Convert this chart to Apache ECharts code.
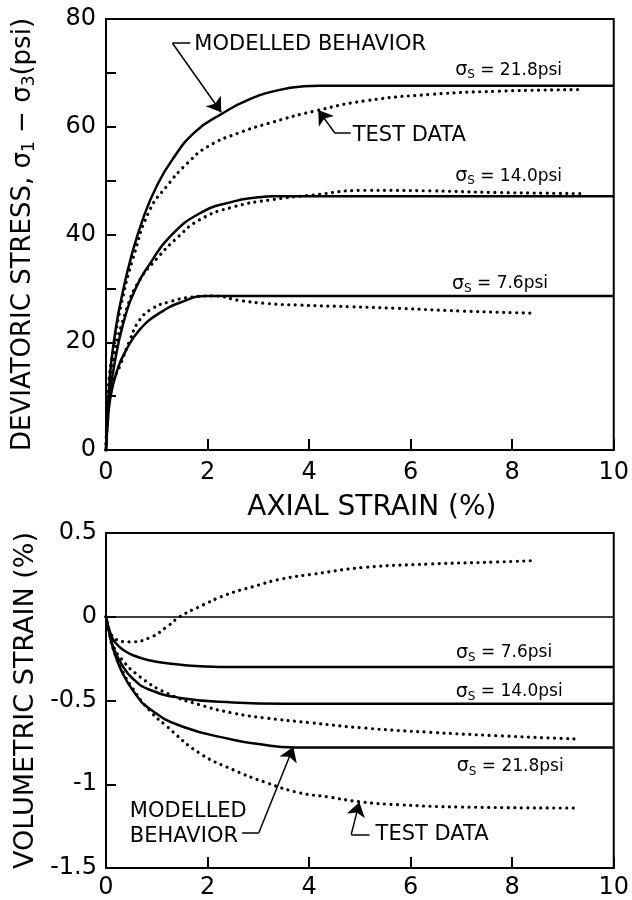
<!DOCTYPE html>
<html>
<head>
<meta charset="utf-8">
<script src="https://cdn.jsdelivr.net/npm/echarts@6/dist/echarts.min.js"></script>
<style>
  html, body { margin: 0; padding: 0; background: #fff; }
  #main { width: 632px; height: 900px; }
</style>
</head>
<body>
<div id="main"></div>
<script>
// axial strain (%) -> deviatoric stress (psi)
var modelDev218 = [[0,0],[0.05,10],[0.1,16],[0.2,23],[0.3,28],[0.5,36],[0.75,43.5],[1,49],[1.3,53.8],[1.75,59],[2.3,62.5],[2.8,65],[3.4,66.8],[3.9,67.5],[4.2,67.6],[10,67.6]];
var testDev218  = [[0,0],[0.05,12],[0.15,19],[0.3,27],[0.53,35.5],[0.86,44.5],[1.2,49],[1.6,53.2],[2.0,56.3],[2.6,58.8],[3.3,60.9],[4.1,62.9],[5.1,64.8],[6.4,66],[7.7,66.6],[9.3,66.9]];
var modelDev140 = [[0,0],[0.04,8],[0.14,14.5],[0.34,23.5],[0.6,30.3],[0.86,34.5],[1.25,39.5],[1.84,43.9],[2.5,46.1],[3.0,46.9],[3.3,47.1],[10,47.1]];
var testDev140  = [[0,0],[0.05,10],[0.15,17],[0.4,26],[0.66,31.5],[1.0,35.5],[1.38,39.2],[1.84,42.7],[2.5,45.1],[3.3,46.5],[4.05,47.3],[5.1,48.2],[6.4,48.1],[7.7,47.8],[9.35,47.6]];
var modelDev76  = [[0,0],[0.03,4.5],[0.08,9.3],[0.2,14.2],[0.4,18.6],[0.66,22.3],[1.05,25.4],[1.5,27.5],[1.97,28.6],[10,28.6]];
var testDev76   = [[0,0],[0.05,8],[0.1,12],[0.27,15.5],[0.47,20.4],[0.66,24.1],[0.92,26.3],[1.25,27.5],[1.7,28.4],[2.15,28.6],[2.6,27.8],[3.15,27.2],[3.8,26.9],[4.8,26.6],[5.75,26.3],[7.0,25.8],[8.4,25.4]];

// axial strain (%) -> volumetric strain (%)
var modelVol76  = [[0,0],[0.1,-0.11],[0.2,-0.16],[0.35,-0.2],[0.53,-0.23],[0.85,-0.26],[1.2,-0.277],[1.85,-0.295],[2.6,-0.3],[10,-0.3]];
var testVol76   = [[0,0],[0.14,-0.12],[0.47,-0.15],[0.86,-0.125],[1.2,-0.06],[1.45,0],[1.84,0.06],[2.36,0.13],[2.9,0.18],[3.45,0.225],[4.1,0.255],[5.1,0.295],[6.4,0.315],[7.7,0.327],[8.4,0.335]];
var modelVol140 = [[0,0],[0.07,-0.1],[0.14,-0.18],[0.3,-0.28],[0.53,-0.37],[0.86,-0.436],[1.5,-0.486],[2.5,-0.512],[3.5,-0.52],[10,-0.52]];
var testVol140  = [[0,0],[0.07,-0.1],[0.14,-0.17],[0.27,-0.24],[0.66,-0.356],[1.2,-0.456],[1.84,-0.525],[2.5,-0.575],[3.15,-0.605],[4.0,-0.632],[5.1,-0.665],[6.4,-0.69],[7.7,-0.71],[9.3,-0.73]];
var modelVol218 = [[0,0],[0.07,-0.1],[0.14,-0.19],[0.3,-0.32],[0.53,-0.44],[0.86,-0.55],[1.5,-0.655],[2.5,-0.734],[3.0,-0.76],[3.7,-0.78],[10,-0.78]];
var testVol218  = [[0,0],[0.07,-0.1],[0.14,-0.19],[0.3,-0.31],[0.53,-0.43],[0.86,-0.56],[1.2,-0.655],[1.84,-0.814],[2.5,-0.913],[3.15,-0.99],[3.8,-1.05],[4.4,-1.077],[5.0,-1.105],[5.75,-1.122],[7.0,-1.136],[9.25,-1.142]];

var strainTicks = [0, 2, 4, 6, 8, 10];

// confining pressure labels: [x, y, value]
var devSigmaLabels = [[7.93, 70.5, '21.8'], [7.93, 50.8, '14.0'], [7.76, 30.8, '7.6']];
var volSigmaLabels = [[7.84, -0.215, '7.6'], [7.94, -0.448, '14.0'], [7.96, -0.894, '21.8']];

var FONT = 'DejaVu Sans';

var solid = { color: '#000', width: 2.5 };
var dotted = { color: '#000', width: 3.2, type: [0.01, 6.5], cap: 'round' };

function curve(data, style, grid, extra) {
  var s = {
    type: 'line', data: data, xAxisIndex: grid, yAxisIndex: grid,
    showSymbol: false, smooth: 0.5,
    lineStyle: style, silent: true, animation: false
  };
  return Object.assign(s, extra || {});
}

function sigmaPoints(list) {
  return list.map(function (d) {
    return {
      coord: [d[0], d[1]],
      label: { formatter: '{s|σ}{b|S}{t| = ' + d[2] + 'psi}' }
    };
  });
}

var sigmaRich = {
  s: { fontFamily: FONT, fontSize: 19, lineHeight: 22, color: '#000' },
  b: { fontFamily: FONT, fontSize: 12, lineHeight: 12, verticalAlign: 'bottom', color: '#000' },
  t: { fontFamily: FONT, fontSize: 17, lineHeight: 22, color: '#000' }
};

function textMarks(items) {
  return {
    symbol: 'circle', symbolSize: 1, silent: true,
    itemStyle: { color: 'rgba(0,0,0,0)' },
    label: {
      show: true, position: 'inside', align: 'center', color: '#000',
      fontFamily: FONT, fontSize: 21, rich: sigmaRich
    },
    data: items
  };
}

function leaders(segs) {
  return {
    silent: true, symbol: ['none', 'none'], symbolSize: 14,
    label: { show: false },
    lineStyle: { color: '#000', width: 1.5, type: 'solid' },
    data: segs
  };
}

function seg(a, b, arrow) {
  return [{ coord: a, symbol: 'none' }, { coord: b, symbol: arrow ? 'arrow' : 'none' }];
}

var axisTxt = { fontFamily: FONT, fontSize: 24, color: '#000' };

function xAx(grid, margin) {
  return {
    type: 'value', gridIndex: grid, min: 0, max: 10, interval: 2,
    axisLine: { onZero: false, lineStyle: { color: '#000', width: 2 } },
    axisTick: { inside: true, length: 11, lineStyle: { color: '#000', width: 2 } },
    axisLabel: Object.assign({ margin: margin }, axisTxt),
    splitLine: { show: false }
  };
}

var myChart = echarts.init(document.getElementById('main'));

var option = {
  backgroundColor: '#fff',
  animation: false,
  grid: [
    { left: 106, top: 19, width: 512, height: 431, show: true, borderColor: '#000', borderWidth: 2 },
    { left: 106, top: 533, width: 512, height: 335, show: true, borderColor: '#000', borderWidth: 2 }
  ],
  xAxis: [
    Object.assign(xAx(0, 11), {
      name: 'AXIAL STRAIN (%)', nameLocation: 'middle', nameGap: 44,
      nameTextStyle: { fontFamily: FONT, fontSize: 28, color: '#000', padding: [0, 0, 0, 24] }
    }),
    xAx(1, 8)
  ],
  yAxis: [
    {
      type: 'value', gridIndex: 0, min: 0, max: 80, interval: 10,
      name: '{t|DEVIATORIC STRESS, σ}{b|1}{t| − σ}{b|3}{t|(psi)}',
      nameLocation: 'middle', nameGap: 68,
      nameTextStyle: {
        rich: {
          t: { fontFamily: FONT, fontSize: 26, lineHeight: 30, color: '#000' },
          b: { fontFamily: FONT, fontSize: 17, lineHeight: 17, verticalAlign: 'bottom', color: '#000' }
        }
      },
      axisLine: { lineStyle: { color: '#000', width: 2 } },
      axisTick: { inside: true, length: 10, lineStyle: { color: '#000', width: 2 } },
      axisLabel: Object.assign({
        margin: 10,
        formatter: function (v) { return v % 20 === 0 ? String(v) : ''; }
      }, axisTxt),
      splitLine: { show: false }
    },
    {
      type: 'value', gridIndex: 1, min: -1.5, max: 0.5, interval: 0.5,
      name: 'VOLUMETRIC STRAIN (%)', nameLocation: 'middle', nameGap: 64,
      nameTextStyle: { fontFamily: FONT, fontSize: 27, color: '#000' },
      axisLine: { lineStyle: { color: '#000', width: 2 } },
      axisTick: { inside: true, length: 10, lineStyle: { color: '#000', width: 2 } },
      axisLabel: Object.assign({ margin: 9 }, axisTxt),
      splitLine: { show: false }
    }
  ],
  series: [
    curve(modelDev218, solid, 0, {
      markPoint: textMarks(sigmaPoints(devSigmaLabels).concat([
        { coord: [1.74, 75.2], label: { formatter: 'MODELLED BEHAVIOR', align: 'left' } },
        { coord: [4.86, 58.3], label: { formatter: 'TEST DATA', align: 'left' } }
      ])),
      markLine: leaders([
        seg([1.31, 75.5], [1.66, 75.5]),
        seg([1.31, 75.5], [2.27, 62.7], true),
        seg([4.51, 58.8], [4.82, 58.8]),
        seg([4.51, 58.8], [4.18, 63.1], true)
      ])
    }),
    curve(testDev218, dotted, 0),
    curve(modelDev140, solid, 0),
    curve(testDev140, dotted, 0),
    curve(modelDev76, solid, 0),
    curve(testDev76, dotted, 0),

    curve(modelVol218, solid, 1, {
      markPoint: textMarks(sigmaPoints(volSigmaLabels).concat([
        { coord: [0.47, -1.236], label: { formatter: 'MODELLED\nBEHAVIOR', align: 'left', lineHeight: 25 } },
        { coord: [5.31, -1.30], label: { formatter: 'TEST DATA', align: 'left' } }
      ])),
      markLine: {
        silent: true, symbol: ['none', 'none'], symbolSize: 14,
        label: { show: false },
        lineStyle: { color: '#000', width: 1.5, type: 'solid' },
        data: [
          seg([2.68, -1.29], [3.01, -1.29]),
          seg([3.01, -1.29], [3.69, -0.778], true),
          seg([4.83, -1.299], [5.19, -1.299]),
          seg([4.83, -1.299], [4.99, -1.108], true),
          seg([0, 0], [10, 0])
        ]
      }
    }),
    curve(testVol218, dotted, 1),
    curve(modelVol140, solid, 1),
    curve(testVol140, dotted, 1),
    curve(modelVol76, solid, 1),
    curve(testVol76, dotted, 1)
  ]
};

myChart.setOption(option);
</script>
</body>
</html>
